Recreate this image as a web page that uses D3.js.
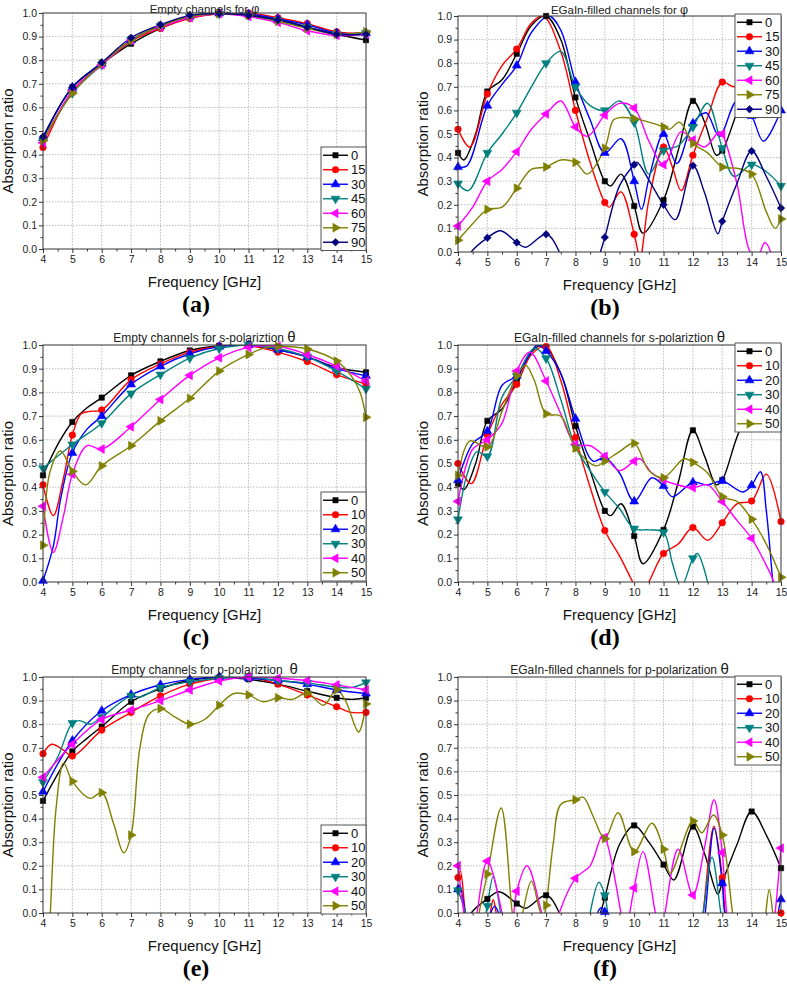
<!DOCTYPE html>
<html><head><meta charset="utf-8">
<script src="https://cdn.jsdelivr.net/npm/d3@7"></script>
<style>
body{margin:0;background:#fff;}
svg{display:block;font-family:Arial,"Liberation Sans",sans-serif;}
</style></head><body>
<svg id="chart" width="787" height="985"></svg>
<script>
// ---------- tick labels / categories ----------
const freqTicks = [4,5,6,7,8,9,10,11,12,13,14,15];
const freqMinor = [4.5,5.5,6.5,7.5,8.5,9.5,10.5,11.5,12.5,13.5,14.5];
const ratioTicks = [0,0.1,0.2,0.3,0.4,0.5,0.6,0.7,0.8,0.9,1.0];
const ratioMinor = [0.05,0.15,0.25,0.35,0.45,0.55,0.65,0.75,0.85,0.95];
const labelsPhi = ["0","15","30","45","60","75","90"];
const labelsTheta = ["0","10","20","30","40","50"];
const seriesColors = ["#000000","#ff0000","#0000ff","#008080","#ff00ff","#808000","#000080"];
const markerShapes = ["square","circle","up","down","left","right","diamond"];

// ---------- (a) Empty channels for phi : [frequency GHz, absorption] ----------
const a0  = [[4,0.47],[5,0.685],[6,0.785],[7,0.87],[8,0.935],[9,0.98],[10,0.997],[11,0.99],[12,0.975],[13,0.94],[14,0.91],[15,0.885]];
const a15 = [[4,0.43],[5,0.67],[6,0.78],[7,0.88],[8,0.935],[9,0.977],[10,0.998],[11,1.0],[12,0.98],[13,0.955],[14,0.92],[15,0.915]];
const a30 = [[4,0.47],[5,0.685],[6,0.785],[7,0.885],[8,0.945],[9,0.985],[10,0.998],[11,0.995],[12,0.975],[13,0.95],[14,0.915],[15,0.915]];
const a45 = [[4,0.46],[5,0.66],[6,0.78],[7,0.885],[8,0.945],[9,0.985],[10,0.997],[11,0.99],[12,0.97],[13,0.94],[14,0.91],[15,0.915]];
const a60 = [[4,0.45],[5,0.67],[6,0.78],[7,0.885],[8,0.94],[9,0.98],[10,0.997],[11,0.985],[12,0.96],[13,0.925],[14,0.905],[15,0.91]];
const a75 = [[4,0.46],[5,0.66],[6,0.785],[7,0.885],[8,0.945],[9,0.985],[10,0.997],[11,0.99],[12,0.965],[13,0.935],[14,0.91],[15,0.92]];
const a90 = [[4,0.475],[5,0.685],[6,0.79],[7,0.895],[8,0.95],[9,0.99],[10,0.998],[11,0.99],[12,0.97],[13,0.94],[14,0.91],[15,0.91]];

// ---------- (b) EGaIn-filled channels for phi ----------
const b0  = [[4,0.42],[4.2,0.39],[4.6,0.5],[5,0.68],[5.5,0.73],[6,0.84],[6.5,0.96],[7,1.0],[7.5,0.9],[8,0.655],[8.5,0.47],[9,0.30],[9.2,0.28],[9.55,0.33],[10,0.195],[10.3,0.08],[11,0.22],[11.5,0.43],[12,0.64],[12.4,0.55],[12.8,0.41],[13,0.43],[13.6,0.62],[14,0.7],[15.3,0.7]];
const b15 = [[4,0.52],[4.4,0.445],[5,0.67],[5.5,0.79],[6,0.86],[6.5,0.97],[6.9,1.0],[7.5,0.85],[8,0.60],[8.5,0.38],[9,0.21],[9.15,0.19],[9.55,0.255],[10,0.075],[10.2,-0.02],[10.5,0.22],[11,0.445],[11.3,0.36],[11.6,0.26],[12,0.41],[12.5,0.57],[13,0.72],[13.4,0.70],[13.7,0.73],[14,0.76],[15.3,0.76]];
const b30 = [[4,0.36],[4.3,0.365],[5,0.62],[5.5,0.71],[6,0.79],[6.5,0.93],[7.1,1.0],[7.5,0.94],[8,0.72],[8.5,0.56],[9,0.42],[9.55,0.48],[10,0.30],[10.25,0.18],[10.5,0.31],[11,0.50],[11.45,0.375],[12,0.545],[12.45,0.59],[12.9,0.49],[13.5,0.64],[14,0.576],[14.4,0.47],[15,0.60]];
const b45 = [[4,0.29],[4.35,0.26],[5,0.42],[5.5,0.50],[6,0.59],[6.5,0.70],[7,0.80],[7.5,0.85],[8,0.70],[8.5,0.62],[9,0.60],[9.5,0.64],[10,0.55],[10.5,0.33],[11,0.43],[11.5,0.45],[12,0.53],[12.5,0.63],[13,0.44],[13.4,0.32],[14,0.37],[14.5,0.34],[15,0.28]];
const b60 = [[4,0.11],[4.5,0.19],[5,0.30],[5.5,0.35],[6,0.425],[6.5,0.52],[7,0.585],[7.5,0.64],[8,0.53],[8.4,0.49],[9,0.58],[9.5,0.63],[10,0.61],[10.5,0.47],[11,0.37],[11.6,0.51],[12,0.475],[12.4,0.445],[12.9,0.51],[13,0.50],[13.5,0.29],[13.95,0.0],[14.2,-0.02],[14.45,0.04],[14.7,-0.02],[15,-0.3]];
const b75 = [[4,0.05],[4.5,0.12],[5,0.18],[5.5,0.19],[6,0.27],[6.5,0.35],[7,0.36],[7.5,0.39],[8,0.38],[8.4,0.33],[9,0.44],[9.3,0.56],[9.6,0.57],[10,0.565],[10.5,0.55],[11,0.53],[11.2,0.52],[11.55,0.55],[12,0.46],[12.5,0.42],[13,0.36],[13.5,0.355],[14,0.33],[14.5,0.17],[14.8,0.10],[15,0.14]];
const b90 = [[4,-0.12],[4.45,0.0],[5,0.06],[5.45,0.09],[6,0.04],[6.3,0.02],[7,0.075],[7.45,0.0],[8,-0.3],[8.85,0.0],[9,0.062],[9.5,0.28],[10,0.37],[10.1,0.38],[10.5,0.305],[11,0.20],[11.4,0.137],[12,0.366],[12.4,0.25],[12.85,0.077],[13,0.13],[13.5,0.29],[14,0.428],[14.5,0.32],[15,0.186]];

// ---------- (c) Empty channels, s-polarization theta ----------
const c0  = [[4,0.45],[4.5,0.58],[5,0.675],[5.5,0.735],[6,0.778],[7,0.872],[8,0.931],[9,0.977],[10,0.997],[11,1.0],[12,0.98],[13,0.95],[14,0.905],[15,0.885]];
const c10 = [[4,0.41],[4.35,0.28],[4.7,0.44],[5,0.62],[5.3,0.71],[5.6,0.72],[6,0.726],[7,0.854],[8,0.92],[9,0.97],[10,0.995],[11,0.997],[12,0.97],[13,0.93],[14,0.875],[15,0.835]];
const c20 = [[4,0.005],[4.35,0.15],[4.6,0.35],[5,0.545],[5.5,0.645],[6,0.70],[7,0.834],[8,0.91],[9,0.963],[10,0.993],[11,1.0],[12,0.98],[13,0.95],[14,0.90],[15,0.87]];
const c30 = [[4,0.48],[5,0.58],[6,0.67],[7,0.795],[8,0.875],[9,0.945],[10,0.985],[11,1.0],[12,0.985],[13,0.95],[14,0.89],[15,0.815]];
const c40 = [[4,0.32],[4.35,0.125],[4.7,0.28],[5,0.455],[5.5,0.575],[6,0.561],[7,0.655],[8,0.77],[9,0.872],[10,0.946],[11,0.99],[12,0.995],[13,0.96],[14,0.911],[15,0.848]];
const c50 = [[4,0.155],[4.25,0.47],[4.6,0.553],[5,0.467],[5.45,0.41],[6,0.49],[7,0.575],[8,0.68],[9,0.775],[10,0.89],[11,0.96],[11.6,0.99],[12,0.995],[13,0.983],[14,0.932],[14.5,0.87],[14.8,0.8],[15,0.695]];

// ---------- (d) EGaIn-filled channels, s-polarization theta ----------
const d0  = [[4,0.415],[4.2,0.39],[4.6,0.5],[5,0.68],[5.5,0.73],[6,0.85],[6.5,0.97],[6.9,1.0],[7.5,0.88],[8,0.658],[8.5,0.47],[9,0.30],[9.2,0.28],[9.55,0.33],[10,0.194],[10.3,0.077],[11,0.22],[11.5,0.42],[12,0.64],[12.4,0.53],[12.8,0.41],[13,0.43],[13.6,0.64],[14,0.7],[15.3,0.7]];
const d10 = [[4,0.50],[4.45,0.415],[5,0.62],[5.5,0.75],[6,0.834],[6.5,0.96],[7,0.994],[7.5,0.85],[8,0.61],[8.5,0.4],[9,0.217],[9.5,0.11],[9.95,0.0],[10.2,-0.06],[10.5,0.0],[11,0.12],[11.5,0.16],[12,0.23],[12.5,0.176],[13,0.25],[13.5,0.33],[14,0.342],[14.5,0.455],[15,0.255]];
const d20 = [[4,0.43],[4.5,0.584],[5,0.636],[5.5,0.83],[6,0.87],[6.4,0.95],[6.7,1.0],[7,0.975],[7.5,0.88],[8,0.689],[8.6,0.51],[9,0.525],[9.5,0.46],[10,0.34],[10.6,0.44],[11,0.405],[11.3,0.36],[12,0.42],[12.5,0.41],[13,0.426],[13.7,0.38],[14,0.408],[14.3,0.465],[14.5,0.3],[14.72,0.0],[15,-0.4]];
const d30 = [[4,0.264],[4.3,0.45],[4.65,0.55],[5,0.53],[5.5,0.78],[6,0.87],[6.6,0.985],[7,0.944],[7.5,0.77],[8,0.57],[8.5,0.47],[9,0.38],[9.5,0.31],[10,0.225],[10.5,0.22],[11,0.21],[11.3,0.08],[11.6,-0.02],[12,0.10],[12.15,0.12],[12.5,0.0],[13,-0.4],[14,-0.5],[15,-0.5]];
const d40 = [[4,0.34],[4.5,0.56],[5,0.60],[5.5,0.67],[6,0.89],[6.45,0.97],[7,0.848],[7.5,0.71],[8,0.58],[8.5,0.575],[9,0.53],[9.5,0.47],[10,0.51],[10.2,0.52],[10.6,0.46],[11,0.43],[12,0.398],[12.5,0.41],[13,0.34],[13.5,0.26],[14,0.184],[14.5,0.07],[14.75,0.0],[15,-0.2]];
const d50 = [[4,0.45],[4.4,0.595],[5,0.57],[5.5,0.72],[6,0.87],[6.3,0.915],[6.6,0.85],[7,0.71],[7.5,0.70],[8,0.565],[8.7,0.49],[9,0.51],[9.5,0.55],[10,0.585],[10.5,0.47],[11,0.44],[11.7,0.52],[12,0.505],[12.5,0.46],[13,0.36],[13.5,0.34],[14,0.265],[14.5,0.16],[15,0.02]];

// ---------- (e) Empty channels, p-polarization theta ----------
const e0  = [[4,0.475],[5,0.685],[5.5,0.74],[6,0.79],[7,0.895],[8,0.95],[9,0.986],[10,0.998],[11,0.99],[12,0.97],[13,0.94],[14,0.912],[14.5,0.905],[15,0.912]];
const e10 = [[4,0.675],[4.3,0.715],[4.7,0.69],[5,0.665],[6,0.775],[7,0.85],[8,0.92],[9,0.97],[10,0.995],[11,1.0],[12,0.97],[13,0.924],[14,0.874],[14.5,0.85],[15,0.85]];
const e20 = [[4,0.514],[5,0.73],[6,0.857],[7,0.925],[8,0.967],[9,0.99],[10,1.0],[11,0.995],[12,0.985],[13,0.97],[14,0.945],[15,0.93]];
const e30 = [[4,0.555],[4.5,0.66],[5,0.805],[5.25,0.815],[5.6,0.80],[6,0.83],[7,0.92],[7.3,0.915],[8,0.955],[9,0.98],[10,0.995],[11,1.0],[12,0.985],[13,0.975],[14,0.957],[14.5,0.955],[15,0.977]];
const e40 = [[4,0.575],[5,0.715],[6,0.82],[7,0.86],[8,0.90],[9,0.945],[10,0.983],[11,1.0],[12,0.995],[13,0.985],[14,0.966],[15,0.946]];
const e50 = [[4,-0.6],[4.25,0.0],[4.45,0.45],[4.7,0.635],[5,0.558],[5.6,0.486],[6,0.51],[6.4,0.38],[6.75,0.255],[7,0.33],[7.3,0.70],[7.6,0.84],[8,0.866],[8.5,0.83],[9,0.80],[9.5,0.82],[10,0.88],[10.5,0.93],[11,0.924],[11.5,0.895],[12,0.912],[12.5,0.905],[13,0.932],[13.55,0.88],[14,0.946],[14.3,0.90],[14.75,0.767],[15,0.886]];

// ---------- (f) EGaIn-filled channels, p-polarization theta ----------
const f0  = [[4,-0.12],[4.45,0.0],[5,0.06],[5.4,0.09],[6,0.04],[6.3,0.02],[7,0.075],[7.45,0.0],[8,-0.3],[8.85,0.0],[9,0.065],[9.5,0.29],[10,0.371],[10.5,0.30],[11,0.205],[11.35,0.14],[12,0.366],[12.4,0.25],[12.85,0.08],[13,0.13],[13.5,0.29],[14,0.43],[14.5,0.33],[15,0.19]];
const f10 = [[4,0.15],[4.08,0.178],[4.25,0.0],[4.6,-0.3],[4.95,-0.15],[5.1,0.0],[5.2,0.056],[5.3,0.0],[5.6,-0.3],[12,-0.4],[12.35,0.0],[12.72,0.368],[13,0.15],[13.1,0.0],[13.5,-0.3],[14.5,-0.3],[15,0.0]];
const f20 = [[4,0.10],[4.05,0.118],[4.25,0.0],[4.6,-0.3],[5.0,-0.15],[5.12,0.0],[5.25,0.028],[5.38,0.0],[5.7,-0.3],[8.4,-0.3],[8.75,0.0],[8.88,0.022],[9,0.004],[9.1,-0.05],[9.5,-0.3],[12,-0.4],[12.42,0.0],[12.72,0.36],[13,0.126],[13.08,0.0],[13.5,-0.3],[14.6,-0.3],[14.9,0.0],[15,0.058]];
const f30 = [[4,0.096],[4.25,0.0],[4.6,-0.3],[4.8,-0.12],[4.95,0.0],[5,0.031],[5.2,0.155],[5.45,0.0],[5.8,-0.3],[8.2,-0.3],[8.5,0.0],[8.8,0.13],[9,0.075],[9.1,0.0],[9.5,-0.3],[12,-0.3],[12.35,0.0],[12.65,0.236],[12.95,0.0],[13.3,-0.3],[15,-0.3]];
const f40 = [[4,0.20],[4.2,0.0],[4.45,-0.2],[4.65,0.0],[5,0.22],[5.5,0.0],[5.7,-0.15],[5.9,0.0],[6,0.092],[6.35,0.20],[6.85,0.0],[7.15,-0.15],[7.45,0.0],[8,0.147],[8.5,0.20],[8.9,0.325],[9,0.32],[9.55,0.0],[9.7,-0.12],[9.85,0.0],[10,0.106],[10.3,0.26],[10.72,0.0],[10.9,-0.12],[11.05,0.0],[11.5,0.27],[12,0.076],[12.4,0.28],[12.72,0.48],[13,0.256],[13.15,0.0],[13.5,-0.3],[14.5,-0.3],[14.8,0.0],[15,0.275]];
const f50 = [[4,-0.3],[4.4,-0.3],[4.72,0.0],[5,0.165],[5.47,0.445],[5.85,0.0],[6.0,-0.1],[6.2,0.0],[6.5,0.135],[6.82,0.0],[6.92,-0.01],[7,0.033],[7.25,0.30],[7.5,0.46],[8,0.48],[8.27,0.49],[8.6,0.41],[9,0.315],[9.45,0.425],[10,0.26],[10.6,0.38],[11,0.27],[11.23,0.168],[12,0.39],[12.3,0.34],[12.7,0.415],[13,0.33],[13.35,0.0],[13.7,-0.3],[14.2,-0.3],[14.48,0.0],[14.6,0.1],[14.72,0.0],[15,-0.3]];

const dataA = [a0,a15,a30,a45,a60,a75,a90];
const dataB = [b0,b15,b30,b45,b60,b75,b90];
const dataC = [c0,c10,c20,c30,c40,c50];
const dataD = [d0,d10,d20,d30,d40,d50];
const dataE = [e0,e10,e20,e30,e40,e50];
const dataF = [f0,f10,f20,f30,f40,f50];

// ---------- layout ----------
const panels = [
  {title:"Empty channels for ", sym:"φ", data:dataA, labels:labelsPhi, x0:43, y0:13, x1:366, y1:249, lx:321, ly:147, tag:"(a)", tagX:196},
  {title:"EGaIn-filled channels for ", sym:"φ", data:dataB, labels:labelsPhi, x0:458, y0:16, x1:781, y1:252, lx:735, ly:14, tag:"(b)", tagX:605},
  {title:"Empty channels for s-polariztion ", sym:"θ", data:dataC, labels:labelsTheta, x0:43, y0:345, x1:366, y1:582, lx:321, ly:492, tag:"(c)", tagX:196},
  {title:"EGaIn-filled channels for s-polariztion ", sym:"θ", data:dataD, labels:labelsTheta, x0:458, y0:345, x1:781, y1:582, lx:735, ly:343, tag:"(d)", tagX:605},
  {title:"Empty channels for p-polariztion\u00a0 ", sym:"θ", data:dataE, labels:labelsTheta, x0:43, y0:677, x1:366, y1:913, lx:321, ly:825, tag:"(e)", tagX:196},
  {title:"EGaIn-filled channels for p-polarization ", sym:"θ", data:dataF, labels:labelsTheta, x0:458, y0:677, x1:781, y1:913, lx:735, ly:676, tag:"(f)", tagX:605}
];

const svg = d3.select("#chart");

function symbolPath(shape){
  const s = {square:[d3.symbolSquare,28,0], circle:[d3.symbolCircle,34,0], up:[d3.symbolTriangle,34,0],
    down:[d3.symbolTriangle,34,180], left:[d3.symbolTriangle,34,-90], right:[d3.symbolTriangle,34,90],
    diamond:[d3.symbolSquare,28,45]}[shape];
  return {d:d3.symbol().type(s[0]).size(s[1])(), rot:s[2]};
}
function drawMarker(g, shape, color, cx, cy){
  const sp = symbolPath(shape);
  g.append("path").attr("d", sp.d).attr("fill", color).attr("stroke", color).attr("stroke-width",0.6)
    .attr("transform", `translate(${cx},${cy}) rotate(${sp.rot})`);
}

panels.forEach((p, pi) => {
  const x = d3.scaleLinear().domain([4,15]).range([p.x0, p.x1]);
  const y = d3.scaleLinear().domain([0,1]).range([p.y1, p.y0]);
  const g = svg.append("g");
  const clipId = "clip" + pi;
  g.append("clipPath").attr("id", clipId).append("rect")
    .attr("x", p.x0).attr("y", p.y0).attr("width", p.x1 - p.x0).attr("height", p.y1 - p.y0);

  // grid
  const grid = g.append("g").attr("stroke", "#b4b4b4").attr("stroke-width", 0.9).attr("stroke-dasharray", "1.5,1.5");
  freqTicks.slice(1, -1).forEach(t => grid.append("line").attr("x1", x(t)).attr("x2", x(t)).attr("y1", p.y0).attr("y2", p.y1));
  ratioTicks.slice(1, -1).forEach(t => grid.append("line").attr("y1", y(t)).attr("y2", y(t)).attr("x1", p.x0).attr("x2", p.x1));

  // axes
  const ax = g.append("g").attr("transform", `translate(0,${p.y1})`)
    .call(d3.axisBottom(x).tickValues(freqTicks).tickFormat(d3.format("d")).tickSize(4).tickPadding(3));
  const axm = g.append("g").attr("transform", `translate(0,${p.y1})`)
    .call(d3.axisBottom(x).tickValues(freqMinor).tickFormat("").tickSize(2.5));
  const ay = g.append("g").attr("transform", `translate(${p.x0},0)`)
    .call(d3.axisLeft(y).tickValues(ratioTicks).tickFormat(d3.format(".1f")).tickSize(4).tickPadding(2));
  const aym = g.append("g").attr("transform", `translate(${p.x0},0)`)
    .call(d3.axisLeft(y).tickValues(ratioMinor).tickFormat("").tickSize(2.5));
  [ax, axm, ay, aym].forEach(a => {
    a.select(".domain").remove();
    a.selectAll("line").attr("stroke", "#333");
    a.selectAll("text").attr("font-size", 10.5).attr("font-family", "Arial, 'Liberation Sans', sans-serif").attr("fill", "#222");
  });

  // series lines
  const line = d3.line().x(d => x(d[0])).y(d => y(d[1])).curve(d3.curveCatmullRom.alpha(0.5));
  const lines = g.append("g").attr("clip-path", `url(#${clipId})`);
  p.data.forEach((s, si) => {
    lines.append("path").datum(s).attr("d", line).attr("fill", "none")
      .attr("stroke", seriesColors[si]).attr("stroke-width", 1.4);
  });
  // markers at integer frequencies inside the value range
  p.data.forEach((s, si) => {
    const mg = g.append("g");
    s.filter(d => Number.isInteger(d[0]) && d[0] <= 15 && d[1] >= -0.005 && d[1] <= 1.005)
      .forEach(d => drawMarker(mg, markerShapes[si], seriesColors[si], x(d[0]), y(d[1])));
  });

  // frame
  g.append("rect").attr("x", p.x0).attr("y", p.y0).attr("width", p.x1 - p.x0).attr("height", p.y1 - p.y0)
    .attr("fill", "none").attr("stroke", "#333").attr("stroke-width", 1);

  // title (top row is tighter against the page edge)
  const topRow = p.y0 < 100;
  const t = g.append("text").attr("x", (p.x0 + p.x1) / 2).attr("y", topRow ? Math.max(p.y0 - 2.5, 12.5) : p.y0 - 3)
    .attr("text-anchor", "middle").attr("font-size", topRow ? 11.5 : 12).attr("fill", "#222");
  t.append("tspan").text(p.title);
  t.append("tspan").attr("font-size", topRow ? 12.5 : 15).text(p.sym);

  // axis titles
  g.append("text").attr("x", (p.x0 + p.x1) / 2).attr("y", p.y1 + 38).attr("text-anchor", "middle")
    .attr("font-size", 15).attr("fill", "#111").text("Frequency [GHz]");
  g.append("text").attr("transform", `translate(${p.x0 - 30},${(p.y0 + p.y1) / 2 + 10}) rotate(-90)`)
    .attr("text-anchor", "middle").attr("font-size", 15).attr("fill", "#111").text("Absorption ratio");

  // panel tag
  g.append("text").attr("x", p.tagX).attr("y", p.y1 + 63).attr("text-anchor", "middle")
    .attr("font-family", "'Liberation Serif','Times New Roman',serif").attr("font-weight", "bold")
    .attr("font-size", 24).attr("fill", "#000").text(p.tag);

  // legend
  const rowH = 14.5;
  const lg = g.append("g").attr("transform", `translate(${p.lx},${p.ly})`);
  lg.append("rect").attr("width", p.x1 - p.lx).attr("height", p.labels.length * rowH + 2)
    .attr("fill", "#fff").attr("stroke", "#555").attr("stroke-width", 1);
  p.labels.forEach((lab, i) => {
    const cy = 1 + rowH * i + rowH / 2;
    lg.append("line").attr("x1", 2).attr("x2", 27).attr("y1", cy).attr("y2", cy)
      .attr("stroke", seriesColors[i]).attr("stroke-width", 1.4);
    drawMarker(lg, markerShapes[i], seriesColors[i], 14.5, cy);
    lg.append("text").attr("x", 30).attr("y", cy + 4.6).attr("font-size", 13).attr("fill", "#111").text(lab);
  });
});
</script>
</body></html>
